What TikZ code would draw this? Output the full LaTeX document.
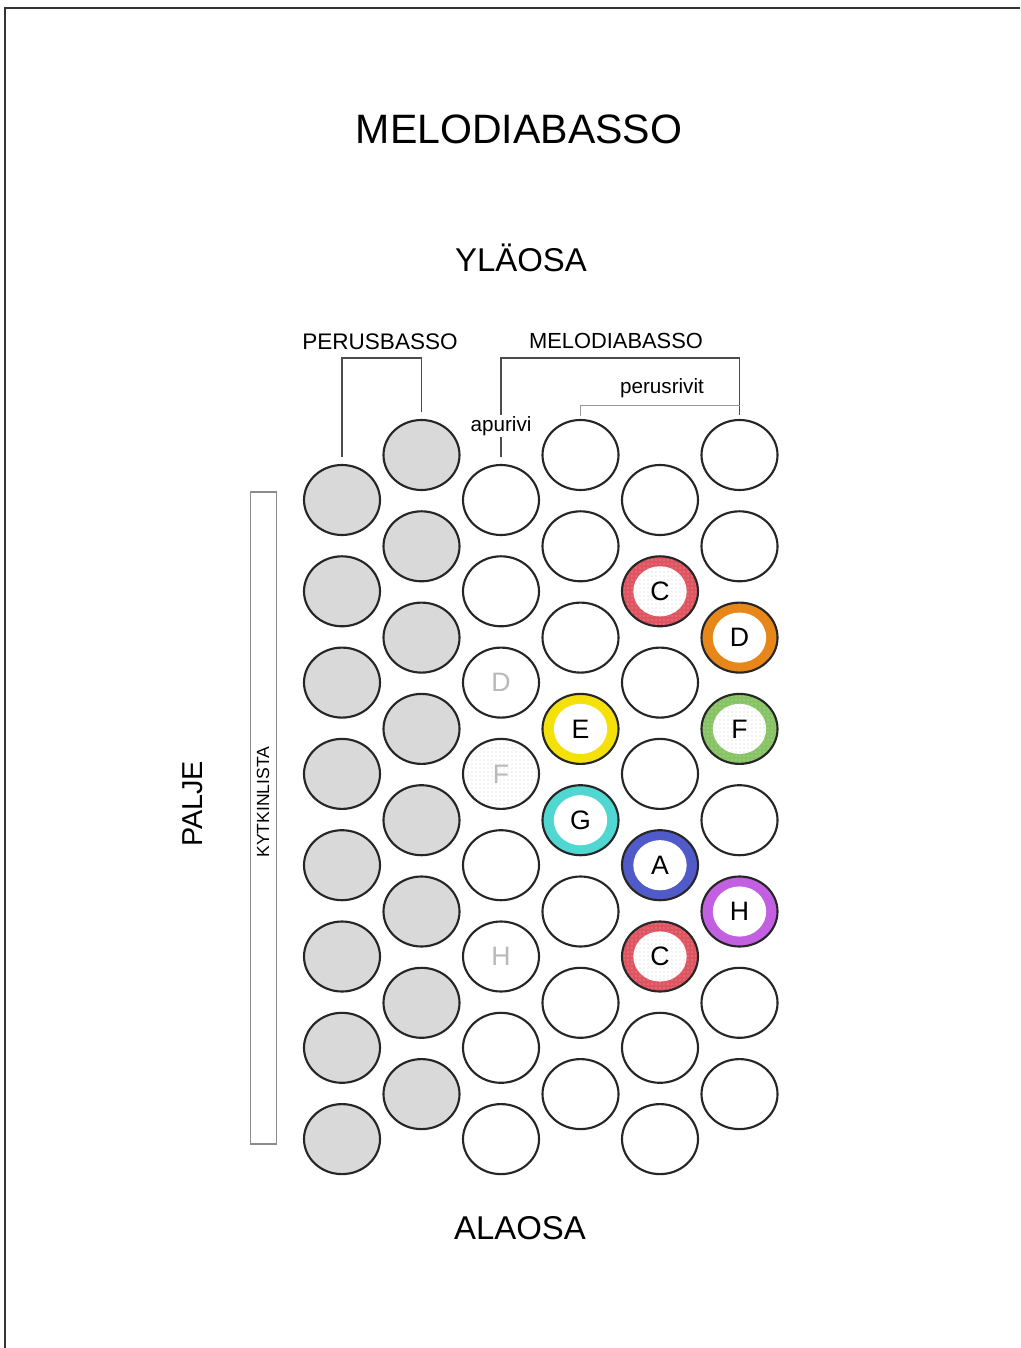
\documentclass[tikz,border=0pt]{standalone}
\usepackage{fontspec}
\setmainfont{Liberation Sans}
\usetikzlibrary{shapes.geometric,patterns}

\definecolor{keyred}{RGB}{222,84,96}
\definecolor{keyorange}{RGB}{232,135,25}
\definecolor{keygreen}{RGB}{135,195,100}
\definecolor{keyyellow}{RGB}{245,225,10}
\definecolor{keycyan}{RGB}{80,215,210}
\definecolor{keyblue}{RGB}{80,90,200}
\definecolor{keypurple}{RGB}{195,95,225}

\tikzset{
	btn/.style={ellipse, draw=black!85, line width=1.6pt, minimum width=57pt, minimum height=52.5pt, inner sep=0pt, font=\fontsize{20}{20}\selectfont},
	bass/.style={btn, fill=gray!30},
	melody/.style={btn, fill=white},
	dim/.style={melody, text=gray!55},
	dimdots/.style={dim, path picture={\fill[pattern=dots, pattern color=gray!40] (path picture bounding box.south west) rectangle (path picture bounding box.north east);}},
	ring/.style={melody, fill=#1, path picture={\fill[white] (path picture bounding box.center) ellipse [x radius=20pt, y radius=18.8pt];}},
	dotring/.style={melody, fill=#1, path picture={
		\fill[pattern=dots, pattern color=#1!45!white] (path picture bounding box.south west) rectangle (path picture bounding box.north east);
		\fill[white] (path picture bounding box.center) ellipse [x radius=20pt, y radius=18.8pt];
		\fill[pattern=dots, pattern color=gray!40] (path picture bounding box.center) ellipse [x radius=20pt, y radius=18.8pt];}},
	brk/.style={draw=black!70, line width=1.1pt},
	subbrk/.style={draw=black!40, line width=1pt}
}

\begin{document}
\begin{tikzpicture}[x=0.75pt, y=-0.75pt]
	\useasboundingbox (0,0) rectangle (1020,1348);
	% frame
	\draw[line width=2.2pt, black!80] (1020,8) -- (5,8) -- (5,1348);

	% headings
	\node (title) at (519,129) {\fontsize{30.8}{32}\selectfont MELODIABASSO};
	\node (top) at (521,258) {\fontsize{24.7}{26}\selectfont YLÄOSA};
	\node (bottom) at (520,1228) {\fontsize{24.7}{26}\selectfont ALAOSA};
	\node (palje) [rotate=90] at (193,804) {\fontsize{21.6}{22}\selectfont PALJE};

	% perusbasso, two grey rows
	\node [bass] (b11) at (342,500) {};
	\node [bass] (b12) at (342,591.3) {};
	\node [bass] (b13) at (342,682.6) {};
	\node [bass] (b14) at (342,773.9) {};
	\node [bass] (b15) at (342,865.2) {};
	\node [bass] (b16) at (342,956.5) {};
	\node [bass] (b17) at (342,1047.8) {};
	\node [bass] (b18) at (342,1139.1) {};

	\node [bass] (b21) at (421.5,455) {};
	\node [bass] (b22) at (421.5,546.3) {};
	\node [bass] (b23) at (421.5,637.6) {};
	\node [bass] (b24) at (421.5,728.9) {};
	\node [bass] (b25) at (421.5,820.2) {};
	\node [bass] (b26) at (421.5,911.5) {};
	\node [bass] (b27) at (421.5,1002.8) {};
	\node [bass] (b28) at (421.5,1094.1) {};

	% apurivi
	\node [melody] (b31) at (501,500) {};
	\node [melody] (b32) at (501,591.3) {};
	\node [dim] (b33) at (501,682.6) {D};
	\node [dimdots] (b34) at (501,773.9) {F};
	\node [melody] (b35) at (501,865.2) {};
	\node [dim] (b36) at (501,956.5) {H};
	\node [melody] (b37) at (501,1047.8) {};
	\node [melody] (b38) at (501,1139.1) {};

	% perusrivit
	\node [melody] (b41) at (580.5,455) {};
	\node [melody] (b42) at (580.5,546.3) {};
	\node [melody] (b43) at (580.5,637.6) {};
	\node [ring=keyyellow] (b44) at (580.5,728.9) {E};
	\node [ring=keycyan] (b45) at (580.5,820.2) {G};
	\node [melody] (b46) at (580.5,911.5) {};
	\node [melody] (b47) at (580.5,1002.8) {};
	\node [melody] (b48) at (580.5,1094.1) {};

	\node [melody] (b51) at (660,500) {};
	\node [dotring=keyred] (b52) at (660,591.3) {C};
	\node [melody] (b53) at (660,682.6) {};
	\node [melody] (b54) at (660,773.9) {};
	\node [ring=keyblue] (b55) at (660,865.2) {A};
	\node [dotring=keyred] (b56) at (660,956.5) {C};
	\node [melody] (b57) at (660,1047.8) {};
	\node [melody] (b58) at (660,1139.1) {};

	\node [melody] (b61) at (739.5,455) {};
	\node [melody] (b62) at (739.5,546.3) {};
	\node [ring=keyorange] (b63) at (739.5,637.6) {D};
	\node [dotring=keygreen] (b64) at (739.5,728.9) {F};
	\node [melody] (b65) at (739.5,820.2) {};
	\node [ring=keypurple] (b66) at (739.5,911.5) {H};
	\node [melody] (b67) at (739.5,1002.8) {};
	\node [melody] (b68) at (739.5,1094.1) {};

	% row labels and brackets
	\node (perus) at (380,342) {\fontsize{16.9}{18}\selectfont PERUSBASSO};
	\node (melo) at (616,341) {\fontsize{16.4}{17}\selectfont MELODIABASSO};
	\node (rivit) at (662,388) {\fontsize{15.5}{17}\selectfont perusrivit};
	\node [inner sep=1pt] (apu) at (501,426) {\fontsize{15.5}{17}\selectfont apurivi};
	\coordinate (pbtop) at (342,358);
	\coordinate (mbtop) at (501,358);

	\draw[brk] ([yshift=5pt]b11.north) -- (pbtop) -| ([yshift=5pt]b21.north);
	\draw[brk] ([yshift=5pt]b31.north) -- (apu.south);
	\draw[brk] (apu.north) -- (mbtop) -| ([yshift=3pt]b61.north);
	\draw[subbrk] ([yshift=2pt]b41.north) |- ([yshift=10pt]b61.north);

	% kytkinlista
	\node [draw=black!45, line width=0.9pt, minimum width=20pt, minimum height=489pt, inner sep=0pt] (bar) at (263.5,818) {};
	\node [rotate=90] (kytkin) at (263,802) {\fontsize{13.2}{14}\selectfont KYTKINLISTA};
\end{tikzpicture}
\end{document}
